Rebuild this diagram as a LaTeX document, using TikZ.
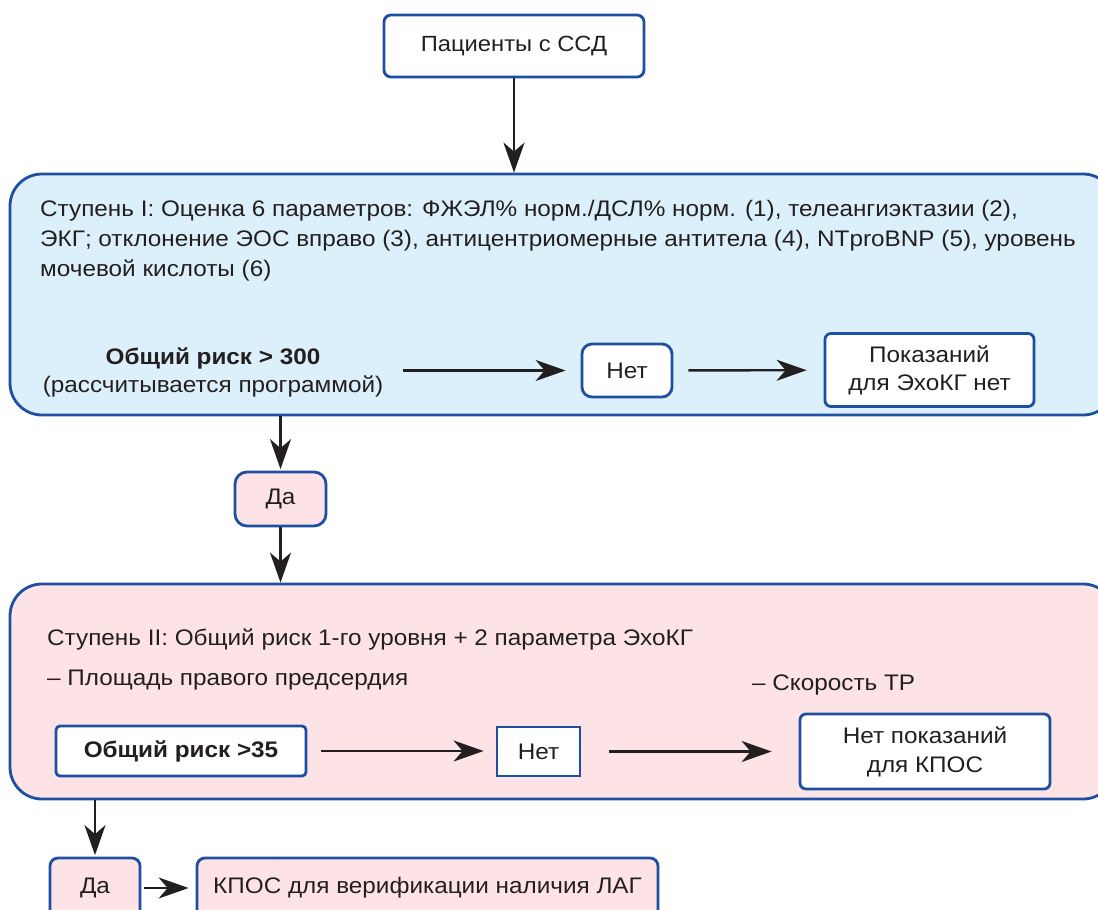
\documentclass[tikz,border=0pt]{standalone}
\usepackage{fontspec}
\setmainfont{Liberation Sans}[FakeStretch=1.08]
\usetikzlibrary{arrows.meta}
\definecolor{frame}{HTML}{1E4FA3}
\definecolor{ink}{HTML}{231F20}
\definecolor{skyfill}{HTML}{DCF0FB}
\definecolor{rosefill}{HTML}{FDE3E5}
\begin{document}
\begin{tikzpicture}[x=1pt,y=-1pt,
  txt/.style={font=\fontsize{22.5}{30}\selectfont, text=ink, inner sep=0pt},
  box/.style={txt, draw=frame, line width=2.8pt, fill=white, rounded corners=7pt, align=center},
  panel/.style={draw=frame, line width=2.8pt, rounded corners=32pt},
  link/.style={draw=ink, line width=2.4pt, -{Stealth[length=30pt,width=21pt,inset=9pt]}}
]
\clip (0,0) rectangle (1098,910);
\fill[white] (0,0) rectangle (1098,910);

% start
\node[box, minimum width=260pt, minimum height=62pt, font=\fontsize{22}{30}\selectfont] (start) at (514,46) {Пациенты с ССД};

% stage I
\node[panel, fill=skyfill, minimum width=1105pt, minimum height=241pt] (s1) at (562.5,294.5) {};
\node[txt, anchor=base west, align=left] (s1text) at (40,276)
  {Ступень I: Оценка 6 параметров: ФЖЭЛ\% норм./ДСЛ\% норм. (1), телеангиэктазии (2),\\
   ЭКГ; отклонение ЭОС вправо (3), антицентриомерные антитела (4), NTproBNP (5), уровень\\
   мочевой кислоты (6)};
\node[txt, anchor=base, font=\fontsize{22.5}{30}\selectfont\bfseries] (risk1) at (213,364) {Общий риск > 300};
\node[txt, anchor=base] (risk1b) at (213,392) {(рассчитывается программой)};
\node[box, rounded corners=10pt, minimum width=90pt, minimum height=53pt] (no1) at (627,370.5) {Нет};
\node[box, rounded corners=6pt, minimum width=209pt, minimum height=73pt, font=\fontsize{22.5}{28}\selectfont] (pok) at (929.5,370) {Показаний\\для ЭхоКГ нет};

% yes I
\node[box, fill=rosefill, rounded corners=12pt, minimum width=91pt, minimum height=54pt] (da1) at (280.5,499) {Да};

% stage II
\node[panel, fill=rosefill, minimum width=1105pt, minimum height=215pt] (s2) at (562.5,691.5) {};
\node[txt, anchor=base west] (s2text) at (47,645) {Ступень II: Общий риск 1-го уровня + 2 параметра ЭхоКГ};
\node[txt, anchor=base west] (area) at (47,685) {– Площадь правого предсердия};
\node[txt, anchor=base west] (speed) at (752,690) {– Скорость ТР};
\node[box, rounded corners=4pt, minimum width=250pt, minimum height=50pt, font=\fontsize{22.5}{30}\selectfont\bfseries] (risk2) at (181,751) {Общий риск >35};
\node[box, sharp corners, minimum width=83pt, minimum height=49pt] (no2) at (538.5,751.5) {Нет};
\node[box, rounded corners=6pt, minimum width=250pt, minimum height=75pt, font=\fontsize{22.5}{29}\selectfont] (nopok) at (925,751.5) {Нет показаний\\для КПОС};

% yes II
\node[box, fill=rosefill, rounded corners=8pt, minimum width=90pt, minimum height=60pt] (da2) at (95,888) {Да};
\node[box, fill=rosefill, rounded corners=8pt, minimum width=461pt, minimum height=60pt] (kpos) at (427.5,888) {КПОС для верификации наличия ЛАГ};

% connectors
\draw[link] (start) -- (start |- s1.north);
\draw[link, shorten <=20pt, shorten >=15pt] (risk1b.east |- no1) -- (no1);
\draw[link, shorten <=15pt, shorten >=17pt] (no1) -- (pok);
\draw[link, shorten >=1.5pt] (da1 |- s1.south) -- (da1);
\draw[link] (da1) -- (da1 |- s2.north);
\draw[link, shorten <=14pt, shorten >=12pt] (risk2) -- (risk2 -| no2.west);
\draw[link, shorten <=28pt, shorten >=27pt] (no2) -- (no2 -| nopok.west);
\draw[link, shorten >=1.5pt] (da2 |- s2.south) -- (da2);
\draw[link, shorten <=3pt, shorten >=7pt] (da2) -- (kpos);
\end{tikzpicture}
\end{document}
